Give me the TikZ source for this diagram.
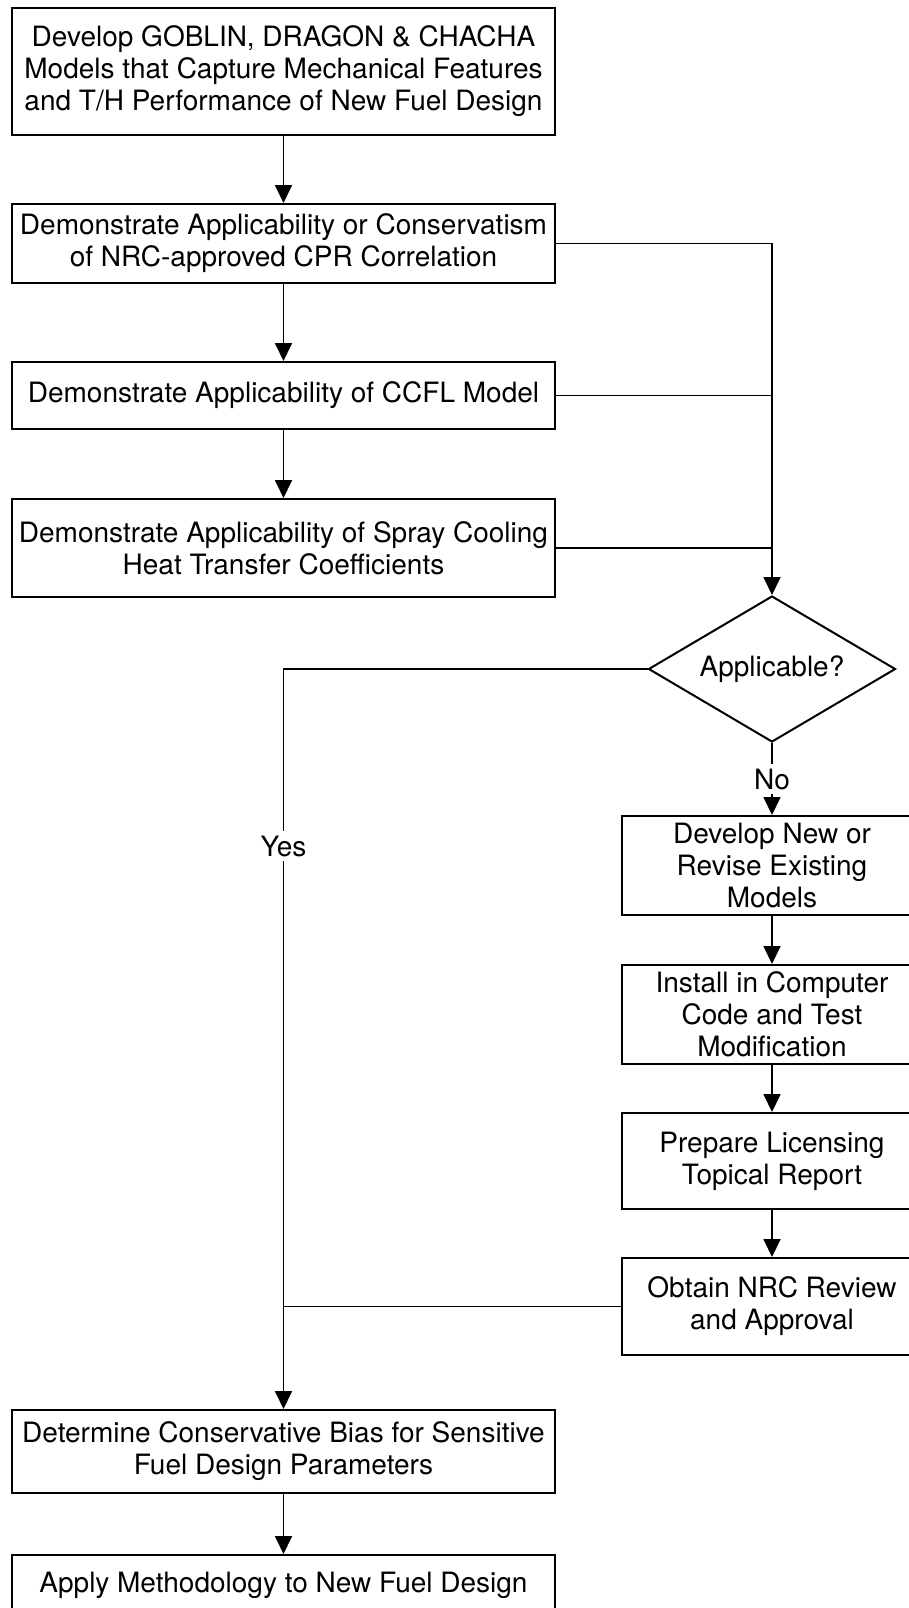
\documentclass[tikz,border=0pt]{standalone}
\usepackage{fontspec}
\setmainfont{TeX Gyre Heros}
\usetikzlibrary{shapes.geometric,arrows.meta}
\begin{document}
\begin{tikzpicture}[x=0.5pt,y=-0.5pt,
  every node/.style={font=\fontsize{14pt}{16pt}\selectfont},
  box/.style={draw,line width=1pt,rectangle,align=center,inner sep=0pt,minimum width=271.5pt},
  rbox/.style={draw,line width=1pt,rectangle,align=center,inner sep=0pt,minimum width=150pt},
  dec/.style={draw,line width=1pt,shape=diamond,shape aspect=1.69,inner sep=0pt,minimum width=123.5pt,minimum height=73pt},
  lbl/.style={inner sep=2pt},
  conn/.style={line width=0.9pt},
  arr/.style={line width=0.9pt,-{Triangle[length=9pt,width=8.5pt]}}]
\clip (0,0) rectangle (909,1608);
\fill[white] (0,0) rectangle (909,1608);
\node[box,minimum height=63.5pt] (b1) at (283.5,71.5) {Develop GOBLIN, DRAGON \& CHACHA\\Models that Capture Mechanical Features\\and T/H Performance of New Fuel Design};
\node[box,minimum height=39.5pt] (b2) at (283.5,243.5) {Demonstrate Applicability or Conservatism\\of NRC-approved CPR Correlation};
\node[box,minimum height=33.5pt] (b3) at (283.5,395.5) {Demonstrate Applicability of CCFL Model};
\node[box,minimum height=49pt] (b4) at (283.5,548) {Demonstrate Applicability of Spray Cooling\\Heat Transfer Coefficients};
\node[dec] (d) at (772,669) {Applicable?};
\node[lbl] (no) at (772,779) {No};
\node[lbl] (yes) at (283.5,846) {Yes};
\node[rbox,minimum height=49.5pt] (b5) at (772,865.5) {Develop New or\\Revise Existing\\Models};
\node[rbox,minimum height=49.5pt] (b6) at (772,1014.5) {Install in Computer\\Code and Test\\Modification};
\node[rbox,minimum height=48pt] (b7) at (772,1161) {Prepare Licensing\\Topical Report};
\node[rbox,minimum height=48.5pt] (b8) at (772,1306.5) {Obtain NRC Review\\and Approval};
\node[box,minimum height=41.5pt] (b9) at (283.5,1451.5) {Determine Conservative Bias for Sensitive\\Fuel Design Parameters};
\node[box,minimum height=30pt] (b10) at (283.5,1585) {Apply Methodology to New Fuel Design};
\draw[arr] (b1) -- (b2);
\draw[arr] (b2) -- (b3);
\draw[arr] (b3) -- (b4);
\draw[arr] (b2.east) -| (d.north);
\draw[conn] (b3.east) -- (b3.east -| d.north);
\draw[conn] (b4.east) -- (b4.east -| d.north);
\draw[conn] (d.south) -- (no.north);
\draw[arr] (no.south) -- (b5.north);
\draw[arr] (b5) -- (b6);
\draw[arr] (b6) -- (b7);
\draw[arr] (b7) -- (b8);
\draw[conn] (d.west) -| (yes.north);
\draw[arr] (yes.south) -- (b9.north);
\draw[conn] (b8.west) -- (b8.west -| b9.north);
\draw[arr] (b9) -- (b10);
\end{tikzpicture}
\end{document}
